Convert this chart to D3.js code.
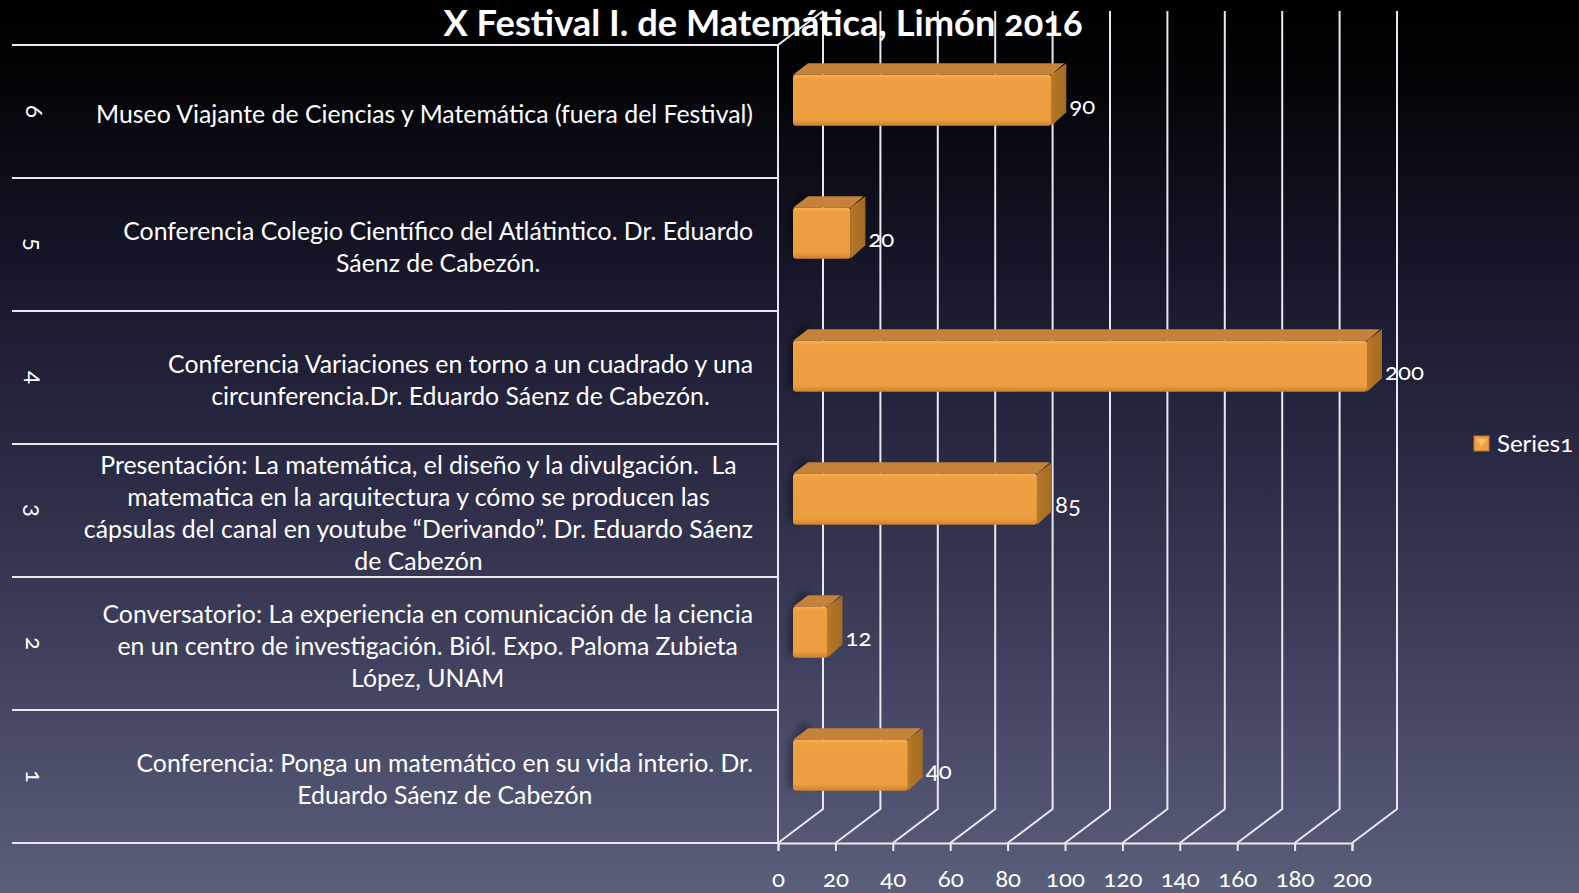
<!DOCTYPE html>
<html lang="es">
<head>
<meta charset="UTF-8">
<title>X Festival I. de Matemática, Limón 2016</title>
<script src="https://d3js.org/d3.v7.min.js"></script>
<style>
  html, body { margin: 0; padding: 0; overflow: hidden; background: #000; }
  svg { display: block; }
  .lbl { font-family: Lato, "Open Sans", sans-serif; fill: #fff; font-variant-numeric: oldstyle-nums; }
  tspan { white-space: pre; }
</style>
</head>
<body>
<svg id="chart" width="1579" height="893"></svg>
<script>
// chart data
const titleText = "X Festival I. de Matemática, Limón 2016";
const categories = ["1", "2", "3", "4", "5", "6"];
const values = [40, 12, 85, 200, 20, 90];
const categoryLines = [
  ["Conferencia: Ponga un matemático en su vida interio. Dr.", "Eduardo Sáenz de Cabezón"],
  ["Conversatorio: La experiencia en comunicación de la ciencia", "en un centro de investigación. Biól. Expo. Paloma Zubieta", "López, UNAM"],
  ["Presentación: La matemática, el diseño y la divulgación.  La", "matematica en la arquitectura y cómo se producen las", "cápsulas del canal en youtube “Derivando”. Dr. Eduardo Sáenz", "de Cabezón"],
  ["Conferencia Variaciones en torno a un cuadrado y una", "circunferencia.Dr. Eduardo Sáenz de Cabezón."],
  ["Conferencia Colegio Científico del Atlátintico. Dr. Eduardo", "Sáenz de Cabezón."],
  ["Museo Viajante de Ciencias y Matemática (fuera del Festival)"]
];
const tickValues = [0, 20, 40, 60, 80, 100, 120, 140, 160, 180, 200];
const seriesName = "Series1";

const W = 1579, H = 893;
const svg = d3.select("#chart");
const defs = svg.append("defs");

// background gradient
const bg = defs.append("linearGradient").attr("id", "bg").attr("x1", 0).attr("y1", 0).attr("x2", 0).attr("y2", 1);
[[0, "#000000"], [0.1, "#050509"], [0.3, "#171629"], [0.5, "#292843"], [0.75, "#41425f"], [1, "#5a5f7c"]]
  .forEach(s => bg.append("stop").attr("offset", s[0]).attr("stop-color", s[1]));
svg.append("rect").attr("width", W).attr("height", H).attr("fill", "url(#bg)");

// bar gradients
const gFront = defs.append("linearGradient").attr("id", "gFront").attr("x1", 0).attr("y1", 0).attr("x2", 0).attr("y2", 1);
[[0, "#f7b055"], [0.08, "#ee9f41"], [0.88, "#ec9d3f"], [1, "#c98330"]]
  .forEach(s => gFront.append("stop").attr("offset", s[0]).attr("stop-color", s[1]));
const gSide = defs.append("linearGradient").attr("id", "gSide").attr("x1", 0).attr("y1", 0).attr("x2", 1).attr("y2", 0);
[[0, "#b77828"], [1, "#a26a22"]]
  .forEach(s => gSide.append("stop").attr("offset", s[0]).attr("stop-color", s[1]));
defs.append("filter").attr("id", "blur").attr("x", "-50%").attr("y", "-50%").attr("width", "200%").attr("height", "200%")
  .append("feGaussianBlur").attr("stdDeviation", 4);

// geometry
const plotTop = 45, plotBottom = 843;
const depth = { dx: 45, dy: -34 };
const x = d3.scaleLinear().domain([0, 200]).range([778, 1352]);
const rows = d3.scaleBand().domain(categories.slice().reverse()).range([plotTop, plotBottom]);
const bars = d3.scaleBand().domain(categories.slice().reverse()).range([plotTop, plotBottom])
  .paddingInner(0.617).paddingOuter(0.3085);

// back wall gridlines and floor
const grid = svg.append("g").attr("stroke", "#e8e8ee").attr("stroke-width", 2).attr("fill", "none");
tickValues.forEach(v => {
  const fx = x(v), bx = x(v) + depth.dx;
  grid.append("path").attr("d", `M${bx},${plotTop + depth.dy}V${plotBottom + depth.dy}L${fx},${plotBottom}`);
});
// left front edge and top diagonal
grid.append("path").attr("d", `M${x(0) + depth.dx},${plotTop + depth.dy}L${x(0)},${plotTop}V${plotBottom}`);

// front axis with ticks
const axis = svg.append("g").attr("transform", `translate(0,${plotBottom})`)
  .call(d3.axisBottom(x).tickValues(tickValues).tickSize(8).tickPadding(19).tickFormat(d3.format("d")));
axis.select(".domain").attr("stroke", "#e8e8ee").attr("stroke-width", 2);
axis.selectAll(".tick line").attr("stroke", "#e8e8ee").attr("stroke-width", 2);
axis.selectAll(".tick text").attr("class", "lbl").attr("font-size", 24).attr("fill", "#fff");

// category table rows
const table = svg.append("g");
rows.domain().forEach(c => {
  table.append("line").attr("x1", 12).attr("x2", x(0)).attr("y1", rows(c)).attr("y2", rows(c))
    .attr("stroke", "#e8e8ee").attr("stroke-width", 2);
});
table.append("line").attr("x1", 12).attr("x2", x(0)).attr("y1", plotBottom).attr("y2", plotBottom)
  .attr("stroke", "#e8e8ee").attr("stroke-width", 2);

// rotated category numbers
categories.forEach(c => {
  const cy = rows(c) + rows.bandwidth() / 2;
  table.append("text").attr("class", "lbl").attr("font-size", 24)
    .attr("transform", `translate(34,${cy}) rotate(90)`)
    .attr("text-anchor", "middle").attr("dy", "0.35em").text(c);
});

// category labels: each block right-aligned, lines centered within it
const probe = svg.append("text").attr("class", "lbl").attr("font-size", 24).text(categoryLines[5][0]);
const fs = 24 * 657 / probe.node().getComputedTextLength();
probe.remove();
const lineH = 32.2, labelRight = 753;
categories.forEach((c, i) => {
  const lines = categoryLines[i];
  const t = table.append("text").attr("class", "lbl").attr("font-size", fs).attr("text-anchor", "middle");
  const spans = lines.map(l => t.append("tspan").text(l));
  const maxW = d3.max(spans, s => s.node().getComputedTextLength());
  const cx = labelRight - maxW / 2;
  const cy = rows(c) + rows.bandwidth() / 2 + 3;
  spans.forEach((s, k) => {
    s.attr("x", cx).attr("y", cy + (k - (lines.length - 1) / 2) * lineH).attr("dy", "0.35em");
  });
});

// 3D bars, front face at 1/3 of the depth, back at 2/3
const f1 = { dx: depth.dx / 3, dy: depth.dy / 3 };
const f2 = { dx: depth.dx / 3, dy: depth.dy / 3 };
const barG = svg.append("g");
categories.forEach((c, i) => {
  const v = values[i];
  const x0 = x(0) + f1.dx, x1 = x(v) + f1.dx;
  const y0 = bars(c) + f1.dy, h = bars.bandwidth();
  const g = barG.append("g");
  // soft shadow behind the bar
  g.append("path").attr("filter", "url(#blur)").attr("fill", "#000").attr("opacity", 0.45)
    .attr("d", `M${x0 - 2},${y0 + 4}L${x0 + f2.dx - 4},${y0 + f2.dy - 6}L${x0 + f2.dx + 2},${y0 + f2.dy}L${x0 + 4},${y0 + h}L${x0 - 4},${y0 + h - 6}Z`);
  g.append("path").attr("fill", "#c4823a")
    .attr("d", `M${x0},${y0}L${x0 + f2.dx},${y0 + f2.dy}H${x1 + f2.dx - 2}L${x1},${y0}Z`);
  g.append("path").attr("fill", "url(#gSide)")
    .attr("d", `M${x1},${y0}L${x1 + f2.dx},${y0 + f2.dy}V${y0 + f2.dy + h - 2}L${x1},${y0 + h}Z`);
  g.append("rect").attr("x", x0).attr("y", y0).attr("width", x1 - x0).attr("height", h)
    .attr("rx", 3).attr("fill", "url(#gFront)");
  // value label
  g.append("text").attr("class", "lbl").attr("font-size", 24)
    .attr("x", x1 + 18).attr("y", y0 + h / 2 + 5).attr("dy", "0.35em").text(v);
});

// legend
const leg = svg.append("g").attr("transform", "translate(1474,436)");
leg.append("rect").attr("width", 15).attr("height", 15).attr("fill", "#ee9f41").attr("stroke", "#b77828").attr("stroke-width", 1);
leg.append("path").attr("d", "M2,3H13L7.5,10Z").attr("fill", "#f8c070");
leg.append("text").attr("class", "lbl").attr("font-size", 24).attr("x", 23).attr("y", 8).attr("dy", "0.35em").text(seriesName);

// title
const title = svg.append("text").attr("class", "lbl").attr("font-weight", "bold").attr("font-size", 36)
  .attr("x", 763).attr("y", 36).attr("text-anchor", "middle")
  .attr("font-family", "'Open Sans', Lato, sans-serif").text(titleText);
title.attr("textLength", 639).attr("lengthAdjust", "spacingAndGlyphs");
</script>
</body>
</html>
